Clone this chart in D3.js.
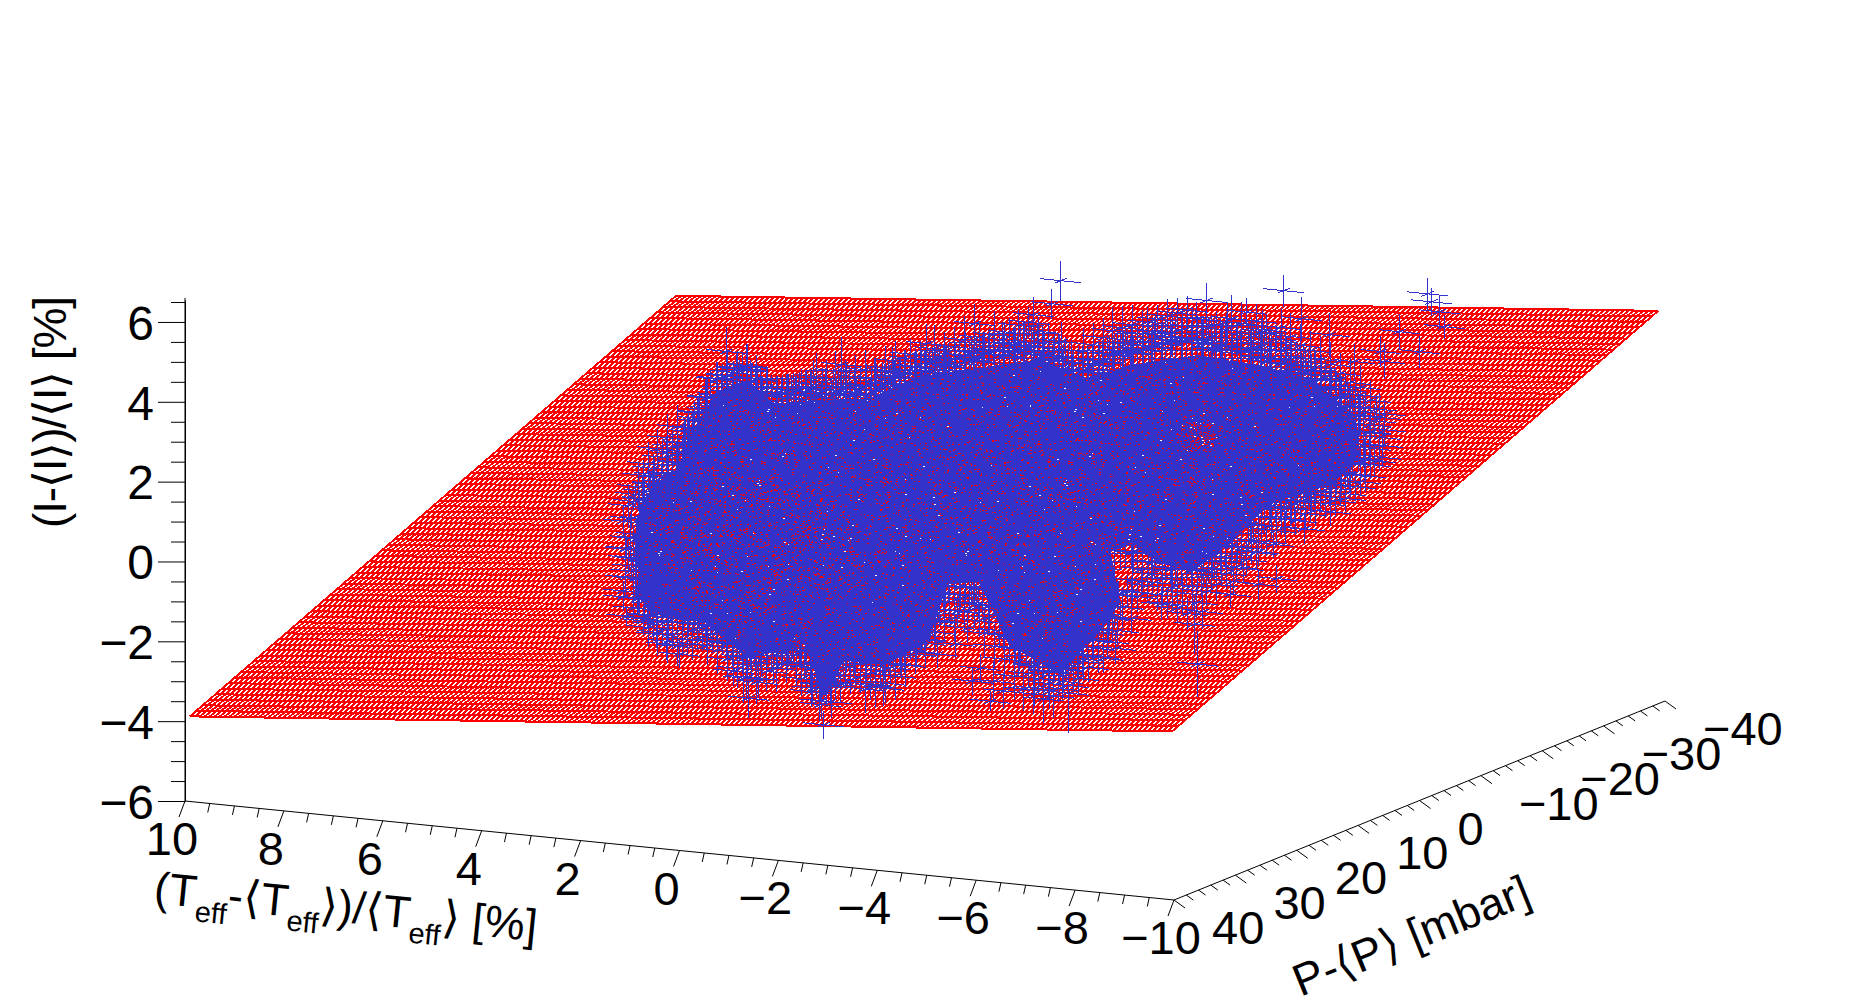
<!DOCTYPE html>
<html>
<head>
<meta charset="utf-8">
<script src="https://d3js.org/d3.v7.min.js"></script>
<style>
    body { margin: 0; background: #fff; }
    text { font-family: "Liberation Sans", Arial, sans-serif; fill: #000; }
</style>
</head>
<body>
<div id="chart"></div>
<script>
// Axis ticks
const tTicks = [10, 8, 6, 4, 2, 0, -2, -4, -6, -8, -10];
const tMinor = [9.5, 9, 8.5, 7.5, 7, 6.5, 5.5, 5, 4.5, 3.5, 3, 2.5, 1.5, 1, 0.5, -0.5, -1, -1.5, -2.5, -3, -3.5, -4.5, -5, -5.5, -6.5, -7, -7.5, -8.5, -9, -9.5];
const pTicks = [40, 30, 20, 10, 0, -10, -20, -30, -40];
const pMinor = [38, 36, 34, 32, 28, 26, 24, 22, 18, 16, 14, 12, 8, 6, 4, 2, -2, -4, -6, -8, -12, -14, -16, -18, -22, -24, -26, -28, -32, -34, -36, -38];
const iTicks = [-6, -4, -2, 0, 2, 4, 6];
const iMinor = [-5.5, -5, -4.5, -3.5, -3, -2.5, -1.5, -1, -0.5, 0.5, 1, 1.5, 2.5, 3, 3.5, 4.5, 5, 5.5, 6.5];

// Fitted plane I = slopeT*T + slopeP*P, and the range it was drawn over
const planeSlopeT = -0.105;
const planeSlopeP = -0.0707;
const planeT = [9.9, -9.96];
const planeP = [40, -39.2];
const planeRows = 76;
const planeCols = 200;

const coreT = [5.79, 5.83, 5.63, 5.00, 4.70, 4.20, 3.57, 3.06, 2.23, 1.10, 0.17, -0.96, -2.32, -3.25, -4.18, -5.51, -6.85, -7.88, -8.71, -8.81, -8.20, -6.95, -6.14, -5.41, -4.68, -4.18, -3.75, -3.95, -3.55, -2.72, -1.69, -1.08, -0.46, -0.05, 0.78, 1.61, 2.03, 2.44, 3.57, 4.50, 5.53];
const coreI = [-2.89, -1.55, -0.20, 0.46, 1.42, 2.50, 2.85, 2.30, 2.50, 2.70, 3.35, 3.70, 4.10, 3.75, 4.20, 4.60, 4.50, 4.25, 3.45, 2.41, 1.69, 1.03, -0.07, -0.83, -0.67, -0.31, -0.54, -1.76, -2.56, -3.74, -3.12, -1.62, -1.77, -3.24, -3.92, -3.87, -4.93, -3.63, -4.12, -3.31, -3.26];
// Outline of the thinner band round the solid part, where the bars no longer cover everything
const haloT = [5.95, 5.95, 5.75, 5.15, 4.85, 4.30, 3.60, 3.06, 2.23, 1.10, 0.17, -0.96, -2.32, -3.25, -4.18, -5.51, -6.85, -7.88, -8.95, -9.05, -8.40, -7.10, -6.30, -5.50, -4.68, -4.18, -3.85, -4.00, -3.60, -2.72, -1.60, -1.08, -0.46, -0.02, 0.78, 1.61, 2.03, 2.44, 3.57, 4.50, 5.60];
const haloI = [-3.10, -1.50, 0.00, 0.80, 1.70, 3.10, 3.40, 3.00, 3.30, 3.50, 4.00, 4.50, 5.00, 4.50, 5.20, 5.60, 5.50, 5.00, 3.90, 2.50, 1.50, 0.60, -0.50, -1.30, -1.10, -0.90, -1.00, -2.10, -2.90, -4.00, -3.40, -2.20, -2.20, -3.40, -4.20, -4.20, -5.00, -4.10, -4.40, -3.60, -3.50];
// Patches inside the cloud where more of the plane shows through
const hotWideT = [5.35, 4.14, 2.52, 1.51, 1.71, 3.73, 5.15];
const hotWideI = [-0.41, 0.74, 0.44, -0.44, -2.46, -2.96, -2.39];
const hotAT = [4.74, 3.33, 3.12, 4.14, 4.74];
const hotAI = [0.16, 0.59, -1.14, -2.14, -1.34];
const hotBT = [2.92, 1.51, 1.30, 2.52];
const hotBI = [-0.61, -0.19, -1.66, -2.31];
const thinT = [-5.17, -5.87, -5.87, -5.17];
const thinI = [2.89, 2.98, 2.22, 2.14];

// Data points with error bars around the edge of the cloud
const backT = [0.98, -1.97, -3.53, -6.44, -6.52, 1.16, 1.53, 2.72, 2.15, 3.69, 4.01, -0.94, -1.47, -0.43, -2.40, -3.10, -3.89, -4.46, -4.96, -5.87, -6.68, -6.28, -5.57, -6.78, -5.49, 1.85, 1.22, 0.96, 0.72, 0.19, -2.17, -3.21, -3.63, 5.41, 4.74, 4.38, 3.29, 7.74, 7.41, 5.98, 6.22, 4.12, 7.84, 7.01, 5.25];
const backI = [3.79, 3.66, 4.10, 4.38, 4.19, 3.19, 2.87, 2.50, 2.17, 1.88, 1.57, 2.75, 2.64, 2.19, 3.18, 3.02, 3.44, 3.11, 2.50, 3.36, 3.96, 2.91, 2.58, 3.60, 2.82, 1.91, 1.91, 2.27, 1.55, 1.86, 2.41, 2.28, 2.16, 1.14, 0.88, 1.10, 1.41, 1.18, 0.80, 0.57, 0.44, 0.80, 0.17, 0.20, 0.41];
const backErrI = [0.50, 0.45, 0.40, 0.40, 0.35, 0.38, 0.45, 0.50, 0.45, 0.50, 0.38, 0.45, 0.55, 0.38, 0.50, 0.55, 0.55, 0.55, 0.45, 0.45, 0.40, 0.40, 0.45, 0.30, 0.38, 0.38, 0.45, 0.50, 0.38, 0.38, 0.45, 0.38, 0.38, 0.70, 0.50, 0.62, 0.45, 0.62, 0.40, 0.62, 0.45, 0.45, 0.45, 0.38, 0.50];
const backP = -30;

const frontT = [4.34, 4.60, 4.76, 5.23, 5.03, 5.47, 5.33, 5.69, 5.89, 5.94, 5.83, 6.04, 5.94, 6.10, 5.89, 6.04, 5.69, 5.43, 5.23, 4.96, 4.70, 4.20, -7.27, -7.67, -8.20, -7.47, -8.50, -8.81, -9.01, -6.74, -7.05, -6.44, -8.91, -9.01, -9.13, -8.81, -6.18, -6.74, -7.11, -6.24, -4.78, -5.61, -5.11, -4.38, -4.18, -4.18, -5.45, -5.51, -3.85, -3.61, -3.18, -0.66, -1.08, -0.15, -0.86, -0.62, -0.25, 3.67, 3.37, 3.57, 3.87, 3.06, 2.44, 2.27, 2.13, 2.05, 1.81, 2.03, 0.84, 1.10, 0.48, 0.17, 1.45, -1.39, -1.59, -1.32, -0.96, -1.12, -2.21, -2.52, -2.90, -2.78];
const frontI = [2.04, 1.76, 1.41, 0.85, 0.80, 0.25, 0.17, -0.20, -0.48, -0.91, -1.30, -1.67, -2.23, -2.75, -3.15, -3.37, -3.45, -3.75, -3.97, -4.19, -3.91, -3.77, 0.72, 0.52, 1.01, 1.10, 1.38, 1.84, 2.29, -0.17, 0.05, -0.63, 2.78, 3.29, 3.70, 4.01, -1.31, -0.99, -0.80, -0.98, -1.73, -1.81, -1.20, -1.21, -1.48, -2.16, -2.15, -3.14, -2.95, -3.23, -3.36, -2.42, -2.19, -2.73, -2.82, -3.25, -3.54, -4.63, -4.59, -5.12, -4.48, -4.30, -4.13, -4.71, -5.01, -5.60, -4.55, -4.33, -4.53, -4.46, -3.88, -3.52, -3.93, -4.08, -4.30, -4.59, -4.13, -3.79, -4.15, -4.19, -4.19, -3.91];
const frontErrI = [0.40, 0.38, 0.35, 0.40, 0.35, 0.38, 0.30, 0.30, 0.25, 0.25, 0.30, 0.25, 0.25, 0.25, 0.30, 0.25, 0.35, 0.35, 0.40, 0.35, 0.40, 0.40, 0.38, 0.38, 0.35, 0.35, 0.35, 0.35, 0.35, 0.35, 0.35, 0.35, 0.35, 0.35, 0.35, 0.35, 0.35, 0.38, 0.35, 0.35, 0.40, 0.45, 0.38, 0.35, 0.35, 0.38, 0.75, 0.82, 0.40, 0.38, 0.35, 0.38, 0.38, 0.38, 0.38, 0.35, 0.35, 0.62, 0.50, 0.50, 0.38, 0.38, 0.38, 0.40, 0.50, 0.35, 0.38, 0.38, 0.45, 0.40, 0.38, 0.35, 0.35, 0.50, 0.45, 0.25, 0.35, 0.35, 0.45, 0.45, 1.00, 0.45];
const frontP = 0;

// Denser fringe of points along the top and bottom of the cloud, as [T, I] at P = 0
const topFringe = [[4.9,0.9],[4.8,1.3],[4.7,1.0],[4.6,1.7],[4.5,1.4],[4.4,2.0],[4.3,1.7],[4.2,2.4],[4.1,2.1],[4.0,2.7],[3.9,2.4],[3.8,3.0],[3.7,2.7],[3.6,3.1],[3.5,2.8],[3.4,2.9],[3.3,2.5],[3.2,2.7],[3.1,2.3],[3.0,2.4],[2.9,2.6],[2.8,2.3],[2.7,2.7],[2.6,2.4],[2.5,2.9],[2.4,2.5],[2.3,2.8],[2.2,3.1],[2.1,2.6],[2.0,3.0],[1.9,2.7],[1.8,3.3],[1.7,2.8],[1.6,3.0],[1.5,2.7],[1.4,3.2],[1.3,2.9],[1.2,3.4],[1.1,2.8],[1.0,3.1],[0.9,3.0],[0.8,3.5],[0.7,3.2],[0.6,3.7],[0.5,3.4],[0.4,3.3],[0.3,3.8],[0.2,3.5],[0.1,3.9],[0,3.4],[-0.1,3.7],[-0.2,4.1],[-0.3,3.7],[-0.4,4.0],[-0.5,3.6],[-0.6,4.2],[-0.7,3.8],[-0.8,4.4],[-0.9,3.9],[-1.0,4.1],[-1.1,4.5],[-1.2,3.9],[-1.3,4.3],[-1.4,4.6],[-1.5,4.1],[-1.6,4.4],[-1.7,4.7],[-1.8,4.2],[-1.9,4.9],[-2.0,4.4],[-2.1,5.0],[-2.2,4.5],[-2.3,4.8],[-2.4,4.3],[-2.5,4.6],[-2.6,4.1],[-2.7,4.4],[-2.8,4.0],[-2.9,4.2],[-3.0,3.9],[-3.1,4.1],[-3.2,4.4],[-3.3,4.0],[-3.4,4.6],[-3.5,4.2],[-3.6,4.8],[-3.7,4.4],[-3.8,5.0],[-3.9,4.6],[-4.0,5.1],[-4.1,4.7],[-4.2,5.2],[-4.3,4.8],[-4.4,5.0],[-4.5,5.3],[-4.6,4.9],[-4.7,5.4],[-4.8,5.0],[-4.9,5.5],[-5.0,5.1],[-5.1,5.6],[-5.2,5.2],[-5.3,5.7],[-5.4,5.3],[-5.5,5.5],[-5.6,5.0],[-5.7,5.3],[-5.8,5.1],[-5.9,5.4],[-6.0,4.9],[-6.1,5.3],[-6.2,5.6],[-6.3,5.1],[-6.4,5.5],[-6.5,5.8],[-6.6,5.2],[-6.7,5.6],[-6.8,5.0],[-6.9,5.4],[-7.0,4.9],[-7.1,5.2],[-7.2,5.5],[-7.3,5.0],[-7.4,5.3],[-7.5,4.8],[-7.6,5.1],[-7.7,4.7],[-7.8,5.0],[-7.9,4.6],[-8.0,4.8],[-8.1,4.4],[-8.2,4.7],[-8.3,4.3],[-8.4,4.5],[-8.5,4.1],[-8.6,4.3],[-8.7,3.9],[-8.8,4.2],[-8.9,3.7],[-9.0,3.9],[-9.1,3.4],[-9.2,3.5],[-9.3,3.2],[-9.25,2.8],[-9.3,3.6]];
const bottomFringe = [[5.7,-3.4],[5.6,-3.6],[5.5,-3.5],[5.4,-3.7],[5.3,-3.6],[5.2,-3.9],[5.1,-3.7],[5.0,-4.0],[4.9,-3.8],[4.8,-3.6],[4.7,-3.8],[4.6,-3.5],[4.5,-3.7],[4.4,-3.9],[4.3,-3.6],[4.2,-4.0],[4.1,-3.7],[4.0,-4.2],[3.9,-4.0],[3.8,-4.4],[3.7,-4.1],[3.6,-4.6],[3.5,-4.3],[3.4,-4.7],[3.3,-4.2],[3.2,-4.4],[3.1,-4.0],[3.0,-4.3],[2.9,-3.9],[2.8,-4.1],[2.7,-3.8],[2.6,-4.2],[2.5,-4.5],[2.4,-4.1],[2.3,-4.8],[2.2,-4.4],[2.1,-5.1],[2.0,-4.6],[1.9,-5.0],[1.8,-4.3],[1.7,-4.6],[1.6,-4.1],[1.5,-4.4],[1.4,-4.0],[1.3,-4.3],[1.2,-4.6],[1.1,-4.2],[1.0,-4.5],[0.9,-4.1],[0.8,-4.4],[0.7,-4.0],[0.6,-4.2],[0.5,-3.7],[0.4,-3.9],[0.3,-3.4],[0.2,-3.6],[0.1,-3.1],[0,-3.3],[-0.1,-2.8],[-0.2,-3.0],[-0.3,-2.5],[-0.4,-2.7],[-0.5,-2.2],[-0.6,-2.6],[-0.7,-2.1],[-0.8,-2.4],[-0.9,-2.0],[-1.0,-2.3],[-1.1,-2.6],[-1.2,-2.9],[-1.3,-2.5],[-1.4,-3.2],[-1.5,-2.8],[-1.6,-3.5],[-1.7,-3.2],[-1.8,-3.9],[-1.9,-3.5],[-2.0,-4.2],[-2.1,-3.8],[-2.2,-4.3],[-2.3,-3.9],[-2.4,-4.4],[-2.5,-4.0],[-2.6,-4.3],[-2.7,-4.1],[-2.8,-3.7],[-2.9,-4.0],[-3.0,-3.5],[-3.1,-3.8],[-3.2,-3.3],[-3.3,-3.5],[-3.4,-3.0],[-3.5,-3.2],[-3.6,-2.6],[-3.7,-2.8],[-3.8,-2.2],[-3.9,-2.5],[-4.0,-1.9],[-4.1,-1.5],[-4.2,-1.2],[-4.3,-1.6],[-4.4,-0.9],[-4.5,-1.3],[-4.6,-1.0],[-4.7,-1.5],[-4.8,-1.1],[-4.9,-1.7],[-5.0,-1.3],[-5.1,-1.8],[-5.2,-1.4],[-5.3,-1.9],[-5.4,-1.2],[-5.5,-1.6],[-5.6,-0.9],[-5.7,-1.3],[-5.8,-0.7],[-5.9,-1.1],[-6.0,-0.5],[-6.1,-0.8],[-6.2,-0.3],[-6.3,-0.6],[-6.4,-0.1],[-6.5,-0.4],[-6.6,0.1],[-6.7,-0.2],[-6.8,0.4],[-6.9,0.1],[-7.0,0.7],[-7.1,0.4],[-7.2,0.9],[-7.3,0.5],[-7.4,1.1],[-7.5,0.7],[-7.6,1.2],[-7.7,0.9],[-7.8,1.3],[-7.9,1.0],[-8.0,1.5],[-8.1,1.2],[-8.2,1.6],[-8.3,1.3],[-8.4,1.8],[-8.5,1.5],[-8.6,2.0],[-8.7,1.7],[-8.8,2.3],[-8.9,2.0],[-9.0,2.7],[-9.1,2.4],[-9.2,3.0],[-9.2,2.5]];
const leftFringe = [[6.1,-2.9],[6.05,-2.4],[6.0,-1.9],[5.95,-1.4],[6.1,-1.0],[6.0,-0.6],[5.85,-0.3],[5.9,-2.1],[6.05,-1.7],[5.8,-0.1],[5.7,0.2],[5.6,0.5],[5.5,0.4],[5.4,0.9],[5.3,0.7],[5.2,1.2],[5.1,1.0],[5.0,1.5]];
// Points sitting right on the edge of the solid part
const edgeTop = [[4.6,1.9],[4.4,2.3],[4.2,2.8],[4.0,2.9],[3.8,3.1],[3.6,3.2],[3.4,2.9],[3.2,2.7],[3.0,2.6],[2.8,2.5],[2.6,2.7],[2.4,2.7],[2.2,2.6],[2.0,2.8],[1.8,2.7],[1.6,2.9],[1.4,2.8],[1.2,3.0],[1.0,2.9],[0.8,3.1],[0.6,3.3],[0.4,3.4],[0.2,3.6],[0,3.5],[-0.2,3.8],[-0.4,3.7],[-0.6,3.9],[-0.8,4.0],[-1.0,3.9],[-1.2,4.1],[-1.4,4.2],[-1.6,4.1],[-1.8,4.4],[-2.0,4.3],[-2.2,4.4],[-2.4,4.2],[-2.6,4.1],[-2.8,3.9],[-3.0,3.9],[-3.2,3.9],[-3.4,4.1],[-3.6,4.2],[-3.8,4.4],[-4.0,4.5],[-4.2,4.5],[-4.4,4.6],[-4.6,4.7],[-4.8,4.8],[-5.0,4.9],[-5.2,4.9],[-5.4,5.0],[-5.6,4.9],[-5.8,4.8],[-6.0,4.9],[-6.2,4.9],[-6.4,4.8],[-6.6,4.9],[-6.8,4.7],[-7.0,4.7],[-7.2,4.6],[-7.4,4.6],[-7.6,4.4],[-7.8,4.5],[-8.0,4.3],[-8.2,4.1],[-8.4,3.9],[-8.6,3.7],[-8.8,3.5],[-9.0,3.1]];
const edgeBottom = [[5.6,-3.3],[5.2,-3.4],[4.8,-3.3],[4.4,-3.4],[4.0,-3.8],[3.6,-4.1],[3.2,-3.9],[2.8,-3.8],[2.5,-3.8],[2.3,-4.2],[2.1,-4.6],[1.9,-4.5],[1.6,-3.9],[1.2,-3.9],[0.8,-3.9],[0.4,-3.5],[0,-3.2],[-0.2,-2.7],[-0.4,-2.0],[-0.7,-1.8],[-1.0,-1.8],[-1.3,-2.2],[-1.6,-2.9],[-1.9,-3.2],[-2.2,-3.6],[-2.5,-3.7],[-2.8,-3.6],[-3.1,-3.2],[-3.4,-2.8],[-3.7,-2.2],[-3.9,-1.6],[-4.2,-0.5],[-4.6,-0.7],[-5.0,-0.8],[-5.4,-0.8],[-5.8,-0.4],[-6.2,-0.1],[-6.6,0.5],[-7.0,1.0],[-7.4,1.2],[-7.8,1.4],[-8.2,1.7],[-8.6,2.0],[-8.9,2.4]];
const edgeLeft = [[5.8,-2.9],[5.85,-2.4],[5.85,-1.9],[5.8,-1.4],[5.75,-0.9],[5.7,-0.4],[5.5,0],[5.2,0.3],[5.0,0.6],[4.85,1.1],[4.7,1.5]];
const fringeErrI = [0.35, 0.5, 0.42, 0.6, 0.38, 0.55];

// Error bars in T and P are about the same for every point
const errT = 0.42;
const errP = 1.0;

const width = 1851;
const height = 1000;
const blue = "#3333cc";

// Oblique axes: T runs along the front edge, P along the right edge, I goes straight up
const tFrac = d3.scaleLinear().domain([10, -10]).range([0, 1]);
const pFrac = d3.scaleLinear().domain([40, -40]).range([0, 1]);
const iY = d3.scaleLinear().domain([-6, 6.55]).range([801, 300]);

function project(t, p, i) {
    const u = tFrac(t), v = pFrac(p);
    return [185 + 989 * u + 491 * v, iY(i) + 99 * u - 199 * v];
}

const svg = d3.select("#chart").append("svg")
    .attr("width", width)
    .attr("height", height)
    .style("display", "block");

// Speckle textures for the cloud (a fixed sequence, only a fill texture, not data)
function speckle(size, count, seed) {
    let d = "";
    let s = seed;
    const next = () => {
        s = (s * 16807) % 2147483647;
        return s;
    };
    for (let k = 0; k < 20; k++) next();
    for (let k = 0; k < count; k++) {
        const x = next() % size;
        const y = next() % size;
        const w = 1 + next() % 2;
        d += `M${x} ${y}h${w}v1h-${w}z`;
    }
    return d;
}
const defs = svg.append("defs");
function addPattern(id, size) {
    return defs.append("pattern")
        .attr("id", id)
        .attr("patternUnits", "userSpaceOnUse")
        .attr("width", size)
        .attr("height", size);
}
const corePattern = addPattern("coreFill", 307);
corePattern.append("rect").attr("width", 307).attr("height", 307).attr("fill", blue);
corePattern.append("path").attr("d", speckle(307, 4200, 11)).attr("fill", "#ff0000");
corePattern.append("path").attr("d", speckle(307, 120, 29)).attr("fill", "#fff");
addPattern("hotFill", 307).append("path")
    .attr("d", speckle(307, 2600, 47))
    .attr("fill", "#ff0000");
const thinPattern = addPattern("thinFill", 197);
thinPattern.append("path").attr("d", speckle(197, 4200, 5)).attr("fill", "#ff0000");
thinPattern.append("path").attr("d", speckle(197, 700, 71)).attr("fill", "#fff");
// Band round the core: uneven hatching of bars with the plane showing between them
const hatchX = [3, 8, 13, 19, 24, 30, 35, 41, 46, 52, 58, 63, 69, 75];
const hatchY = [4, 12, 20, 28, 37, 45, 53];
const haloPattern = addPattern("haloFill", 83).attr("height", 61);
haloPattern.append("path")
    .attr("d", hatchX.map(x => `M${x} 0V61`).join("") + hatchY.map(y => `M0 ${y}H83`).join(""))
    .attr("stroke", blue)
    .attr("stroke-width", 1)
    .attr("shape-rendering", "crispEdges");

// Plane drawn as a dense red mesh
function drawPlane() {
    const mesh = d3.path();
    const planeI = (t, p) => planeSlopeT * t + planeSlopeP * p;
    const line = (a, b) => {
        const s = project(a[0], a[1], planeI(a[0], a[1]));
        const e = project(b[0], b[1], planeI(b[0], b[1]));
        mesh.moveTo(s[0], s[1]);
        mesh.lineTo(e[0], e[1]);
    };
    const rowP = d3.scaleLinear().domain([0, planeRows]).range(planeP);
    const colT = d3.scaleLinear().domain([0, planeCols]).range(planeT);
    d3.range(planeRows + 1).forEach(r => line([planeT[0], rowP(r)], [planeT[1], rowP(r)]));
    d3.range(planeCols + 1).forEach(c => line([colT(c), planeP[0]], [colT(c), planeP[1]]));
    svg.append("path")
        .attr("d", mesh.toString())
        .attr("fill", "none")
        .attr("stroke", "#ff0000")
        .attr("stroke-width", 2)
        .attr("shape-rendering", "crispEdges");
}

// Filled region of the cloud, outlines are given in T and I at P = 0
function drawRegion(ts, is, fill) {
    const outline = d3.line().curve(d3.curveLinearClosed);
    svg.append("path")
        .attr("d", outline(ts.map((t, k) => project(t, 0, is[k]))))
        .attr("fill", fill)
        .attr("shape-rendering", "crispEdges");
}

// One error cross per data point
function drawCrosses(ts, is, errs, p, strokeWidth = 1) {
    const bars = d3.path();
    const bar = (a, b) => {
        bars.moveTo(a[0], a[1]);
        bars.lineTo(b[0], b[1]);
    };
    ts.forEach((t, k) => {
        bar(project(t - errT, p, is[k]), project(t + errT, p, is[k]));
        bar(project(t, p, is[k] - errs[k]), project(t, p, is[k] + errs[k]));
        bar(project(t, p - errP, is[k]), project(t, p + errP, is[k]));
    });
    svg.append("path")
        .attr("d", bars.toString())
        .attr("fill", "none")
        .attr("stroke", blue)
        .attr("stroke-width", strokeWidth)
        .attr("shape-rendering", "crispEdges");
}

function drawFringe(points, strokeWidth = 1) {
    drawCrosses(points.map(d => d[0]), points.map(d => d[1]), points.map((d, k) => fringeErrI[k % fringeErrI.length]), 0, strokeWidth);
}

// I axis on the left
function drawIAxis() {
    svg.append("g")
        .attr("transform", "translate(185,0)")
        .call(d3.axisLeft(iY).tickValues(iMinor).tickSize(14).tickFormat("").tickSizeOuter(0));
    const axis = svg.append("g")
        .attr("transform", "translate(185,0)")
        .call(d3.axisLeft(iY).tickValues(iTicks).tickSize(27).tickSizeOuter(0).tickFormat(d3.format("d")));
    axis.selectAll("text").style("font-size", "48px").attr("x", -31).attr("dy", "0.36em");
    axis.select(".domain").attr("d", `M0 ${iY(-6)}V${iY.range()[1] - 2}`);
    svg.selectAll("g path.domain, g .tick line").attr("stroke", "#000");
}

// T and P axes are oblique so they are drawn by hand from the scales
function drawFloorAxis(ticks, minor, ends, pos, majorTick, minorTick, label) {
    const g = svg.append("g");
    const seg = (a, d) => g.append("line")
        .attr("x1", a[0]).attr("y1", a[1])
        .attr("x2", a[0] + d[0]).attr("y2", a[1] + d[1])
        .attr("stroke", "#000");
    const a = pos(ends[0]), b = pos(ends[1]);
    seg(a, [b[0] - a[0], b[1] - a[1]]);
    minor.forEach(m => seg(pos(m), minorTick));
    ticks.forEach(m => seg(pos(m), majorTick));
    g.selectAll("text").data(ticks).join("text")
        .attr("x", d => pos(d)[0] + label[0])
        .attr("y", d => pos(d)[1] + label[1])
        .attr("text-anchor", label[2])
        .style("font-size", "47px")
        .text(d3.format("d"));
}

// Titles with subscripts
function drawTitle(x, y, angle, parts) {
    const title = svg.append("text")
        .attr("transform", `translate(${x},${y}) rotate(${angle})`)
        .style("font-size", "45px");
    parts.forEach(part => {
        const sub = part === "eff";
        title.append("tspan")
            .attr("dy", sub ? 14 : (part.after ? -14 : 0))
            .style("font-size", sub ? "29px" : "45px")
            .text(sub ? part : (part.text || part));
    });
}

drawPlane();
drawRegion(haloT, haloI, "url(#haloFill)");
drawRegion(coreT, coreI, "url(#coreFill)");
drawRegion(hotWideT, hotWideI, "url(#hotFill)");
drawRegion(hotAT, hotAI, "url(#hotFill)");
drawRegion(hotBT, hotBI, "url(#hotFill)");
drawRegion(thinT, thinI, "url(#thinFill)");
drawCrosses(backT, backI, backErrI, backP);
drawCrosses(frontT, frontI, frontErrI, frontP);
drawFringe(topFringe);
drawFringe(bottomFringe);
drawFringe(leftFringe);
drawFringe(edgeTop, 2);
drawFringe(edgeBottom, 2);
drawFringe(edgeLeft, 2);

drawIAxis();
drawFloorAxis(tTicks, tMinor, [10, -10], t => project(t, 40, -6), [-6, 16], [-2, 9], [-13, 54, "middle"]);
drawFloorAxis(pTicks, pMinor, [40, -40], p => project(-10, p, -6), [11, 8], [7, 5], [38, 44, "start"]);

// I axis title
svg.append("text")
    .attr("transform", "translate(66,412) rotate(-90)")
    .attr("text-anchor", "middle")
    .attr("textLength", 232)
    .style("font-size", "46px")
    .text("(I-\u27E8I\u27E9)/\u27E8I\u27E9 [%]");

// T axis title
drawTitle(153, 903, 5.7, [
    "(T", "eff", { text: "-\u27E8T", after: true }, "eff", { text: "\u27E9)/\u27E8T", after: true }, "eff", { text: "\u27E9 [%]", after: true }
]);

// P axis title
svg.append("text")
    .attr("transform", "translate(1417,950) rotate(-22)")
    .attr("text-anchor", "middle")
    .style("font-size", "45px")
    .text("P-\u27E8P\u27E9 [mbar]");
</script>
</body>
</html>
